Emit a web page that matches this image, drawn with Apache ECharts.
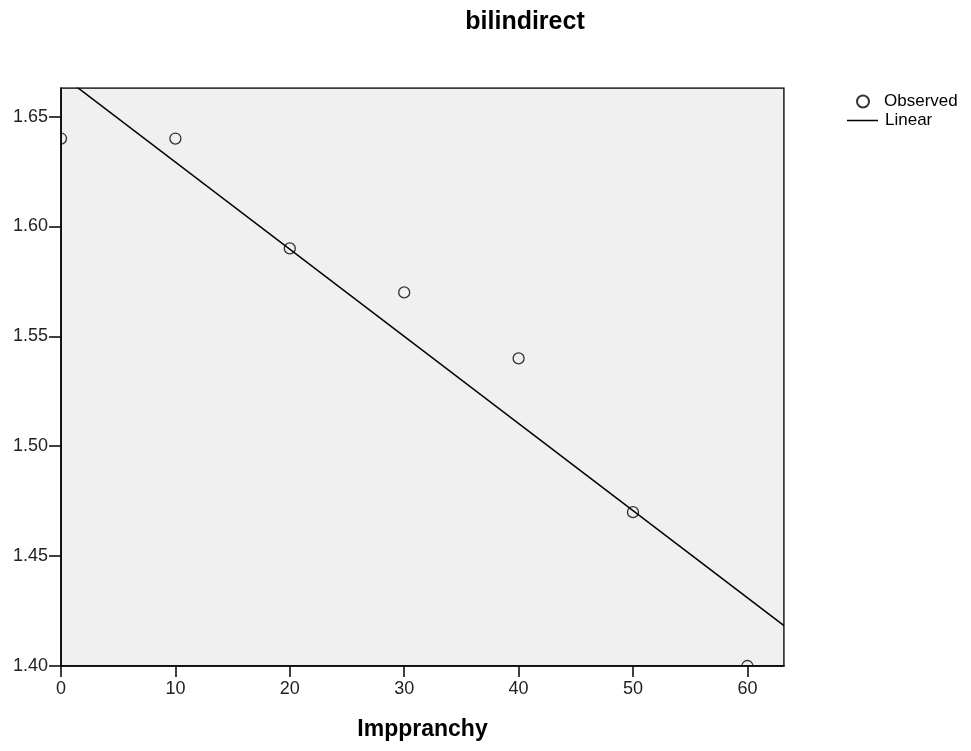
<!DOCTYPE html>
<html><head><meta charset="utf-8">
<script src="https://cdn.jsdelivr.net/npm/echarts@6/dist/echarts.min.js"></script>
<style>html,body{margin:0;padding:0;background:#fff}#c{width:971px;height:751px}</style>
</head><body><div id="c"></div>
<script>
const obsX = [0, 10, 20, 30, 40, 50, 60];
const obsY = [1.64, 1.64, 1.59, 1.57, 1.54, 1.47, 1.40];
const xTicks = [0, 10, 20, 30, 40, 50, 60];
const yTicks = [1.40, 1.45, 1.50, 1.55, 1.60, 1.65];
const xRange = [0, 63.2];
const yRange = [1.40, 1.663];

// least-squares linear fit of the observed data
const n = obsX.length;
const mx = obsX.reduce((a,b)=>a+b,0)/n, my = obsY.reduce((a,b)=>a+b,0)/n;
let sxy = 0, sxx = 0;
for (let i=0;i<n;i++){ sxy += (obsX[i]-mx)*(obsY[i]-my); sxx += (obsX[i]-mx)**2; }
const slope = sxy/sxx, intercept = my - slope*mx;
const lineData = xRange.map(x => [x, intercept + slope*x]);

const W = 971, H = 751;
const G = { left: 61, top: 88, right: 187, bottom: 85 };
const gx2 = W - G.right, gy2 = H - G.bottom;
const font = 'Arial, "Liberation Sans", sans-serif';
const maskStyle = { fill: '#fff' };

const chart = echarts.init(document.getElementById('c'));
chart.setOption({
  animation: false,
  title: { text: 'bilindirect', left: 520, top: 5, textAlign: 'center', z: 6,
    textStyle: { fontFamily: font, fontSize: 25, fontWeight: 'bold', color: '#000' } },
  grid: { left: G.left, top: G.top, right: G.right, bottom: G.bottom, show: true,
    backgroundColor: '#f0f0f0', borderColor: '#000', borderWidth: 1.5 },
  // white masks outside the plot so edge markers appear clipped, as in the reference
  graphic: [
    { type: 'rect', z: 3, silent: true, shape: { x: 0, y: 0, width: G.left - 0.8, height: H }, style: maskStyle },
    { type: 'rect', z: 3, silent: true, shape: { x: gx2 + 0.8, y: 0, width: W - gx2, height: H }, style: maskStyle },
    { type: 'rect', z: 3, silent: true, shape: { x: 0, y: 0, width: W, height: G.top - 0.8 }, style: maskStyle },
    { type: 'rect', z: 3, silent: true, shape: { x: 0, y: gy2 + 0.8, width: W, height: H - gy2 }, style: maskStyle }
  ],
  legend: [
    { data: ['Observed'], left: 856, top: 93, padding: 0, itemWidth: 12, itemHeight: 12, itemGap: 0, z: 6,
      textStyle: { fontFamily: font, fontSize: 17, color: '#000', padding: [0,0,0,10] } },
    { data: [{name:'Linear', icon: 'rect'}], left: 847, top: 112, padding: 0, itemWidth: 31, itemHeight: 1.5, z: 6,
      itemStyle: { color: '#000' },
      textStyle: { fontFamily: font, fontSize: 17, color: '#000', padding: [0,0,0,2] } }
  ],
  xAxis: {
    type: 'value', min: xRange[0], max: xRange[1], interval: 10, z: 5,
    name: 'Imppranchy', nameLocation: 'middle', nameGap: 52,
    nameTextStyle: { fontFamily: font, fontSize: 23, fontWeight: 'bold', color: '#000' },
    axisLine: { show: true, lineStyle: { color: '#000', width: 1.5 } },
    axisTick: { show: true, length: 11, lineStyle: { color: '#000', width: 1.5 } },
    axisLabel: { fontFamily: font, fontSize: 18, color: '#222', margin: 14, showMaxLabel: false,
      formatter: v => xTicks.includes(v) ? String(v) : '' },
    splitLine: { show: false }
  },
  yAxis: {
    type: 'value', min: yRange[0], max: yRange[1], interval: 0.05, z: 5,
    axisLine: { show: true, lineStyle: { color: '#000', width: 1.5 } },
    axisTick: { show: true, length: 12, lineStyle: { color: '#000', width: 1.5 } },
    axisLabel: { fontFamily: font, fontSize: 18, color: '#222', margin: 13, showMaxLabel: false,
      padding: [5,0,0,0],
      formatter: v => { const t = yTicks.find(y => Math.abs(y-v)<1e-9); return t!==undefined ? t.toFixed(2) : ''; } },
    splitLine: { show: false }
  },
  series: [
    { name: 'Observed', type: 'scatter', z: 2, symbol: 'circle', symbolSize: 11,
      itemStyle: { color: 'rgba(0,0,0,0)', borderColor: '#000', borderWidth: 1.3 },
      data: obsX.map((x,i)=>[x, obsY[i]]) },
    { name: 'Linear', type: 'line', z: 2, clip: true, symbol: 'none', silent: true,
      lineStyle: { color: '#000', width: 1.5 }, itemStyle: { color: '#000' },
      data: lineData }
  ]
});
</script></body></html>
